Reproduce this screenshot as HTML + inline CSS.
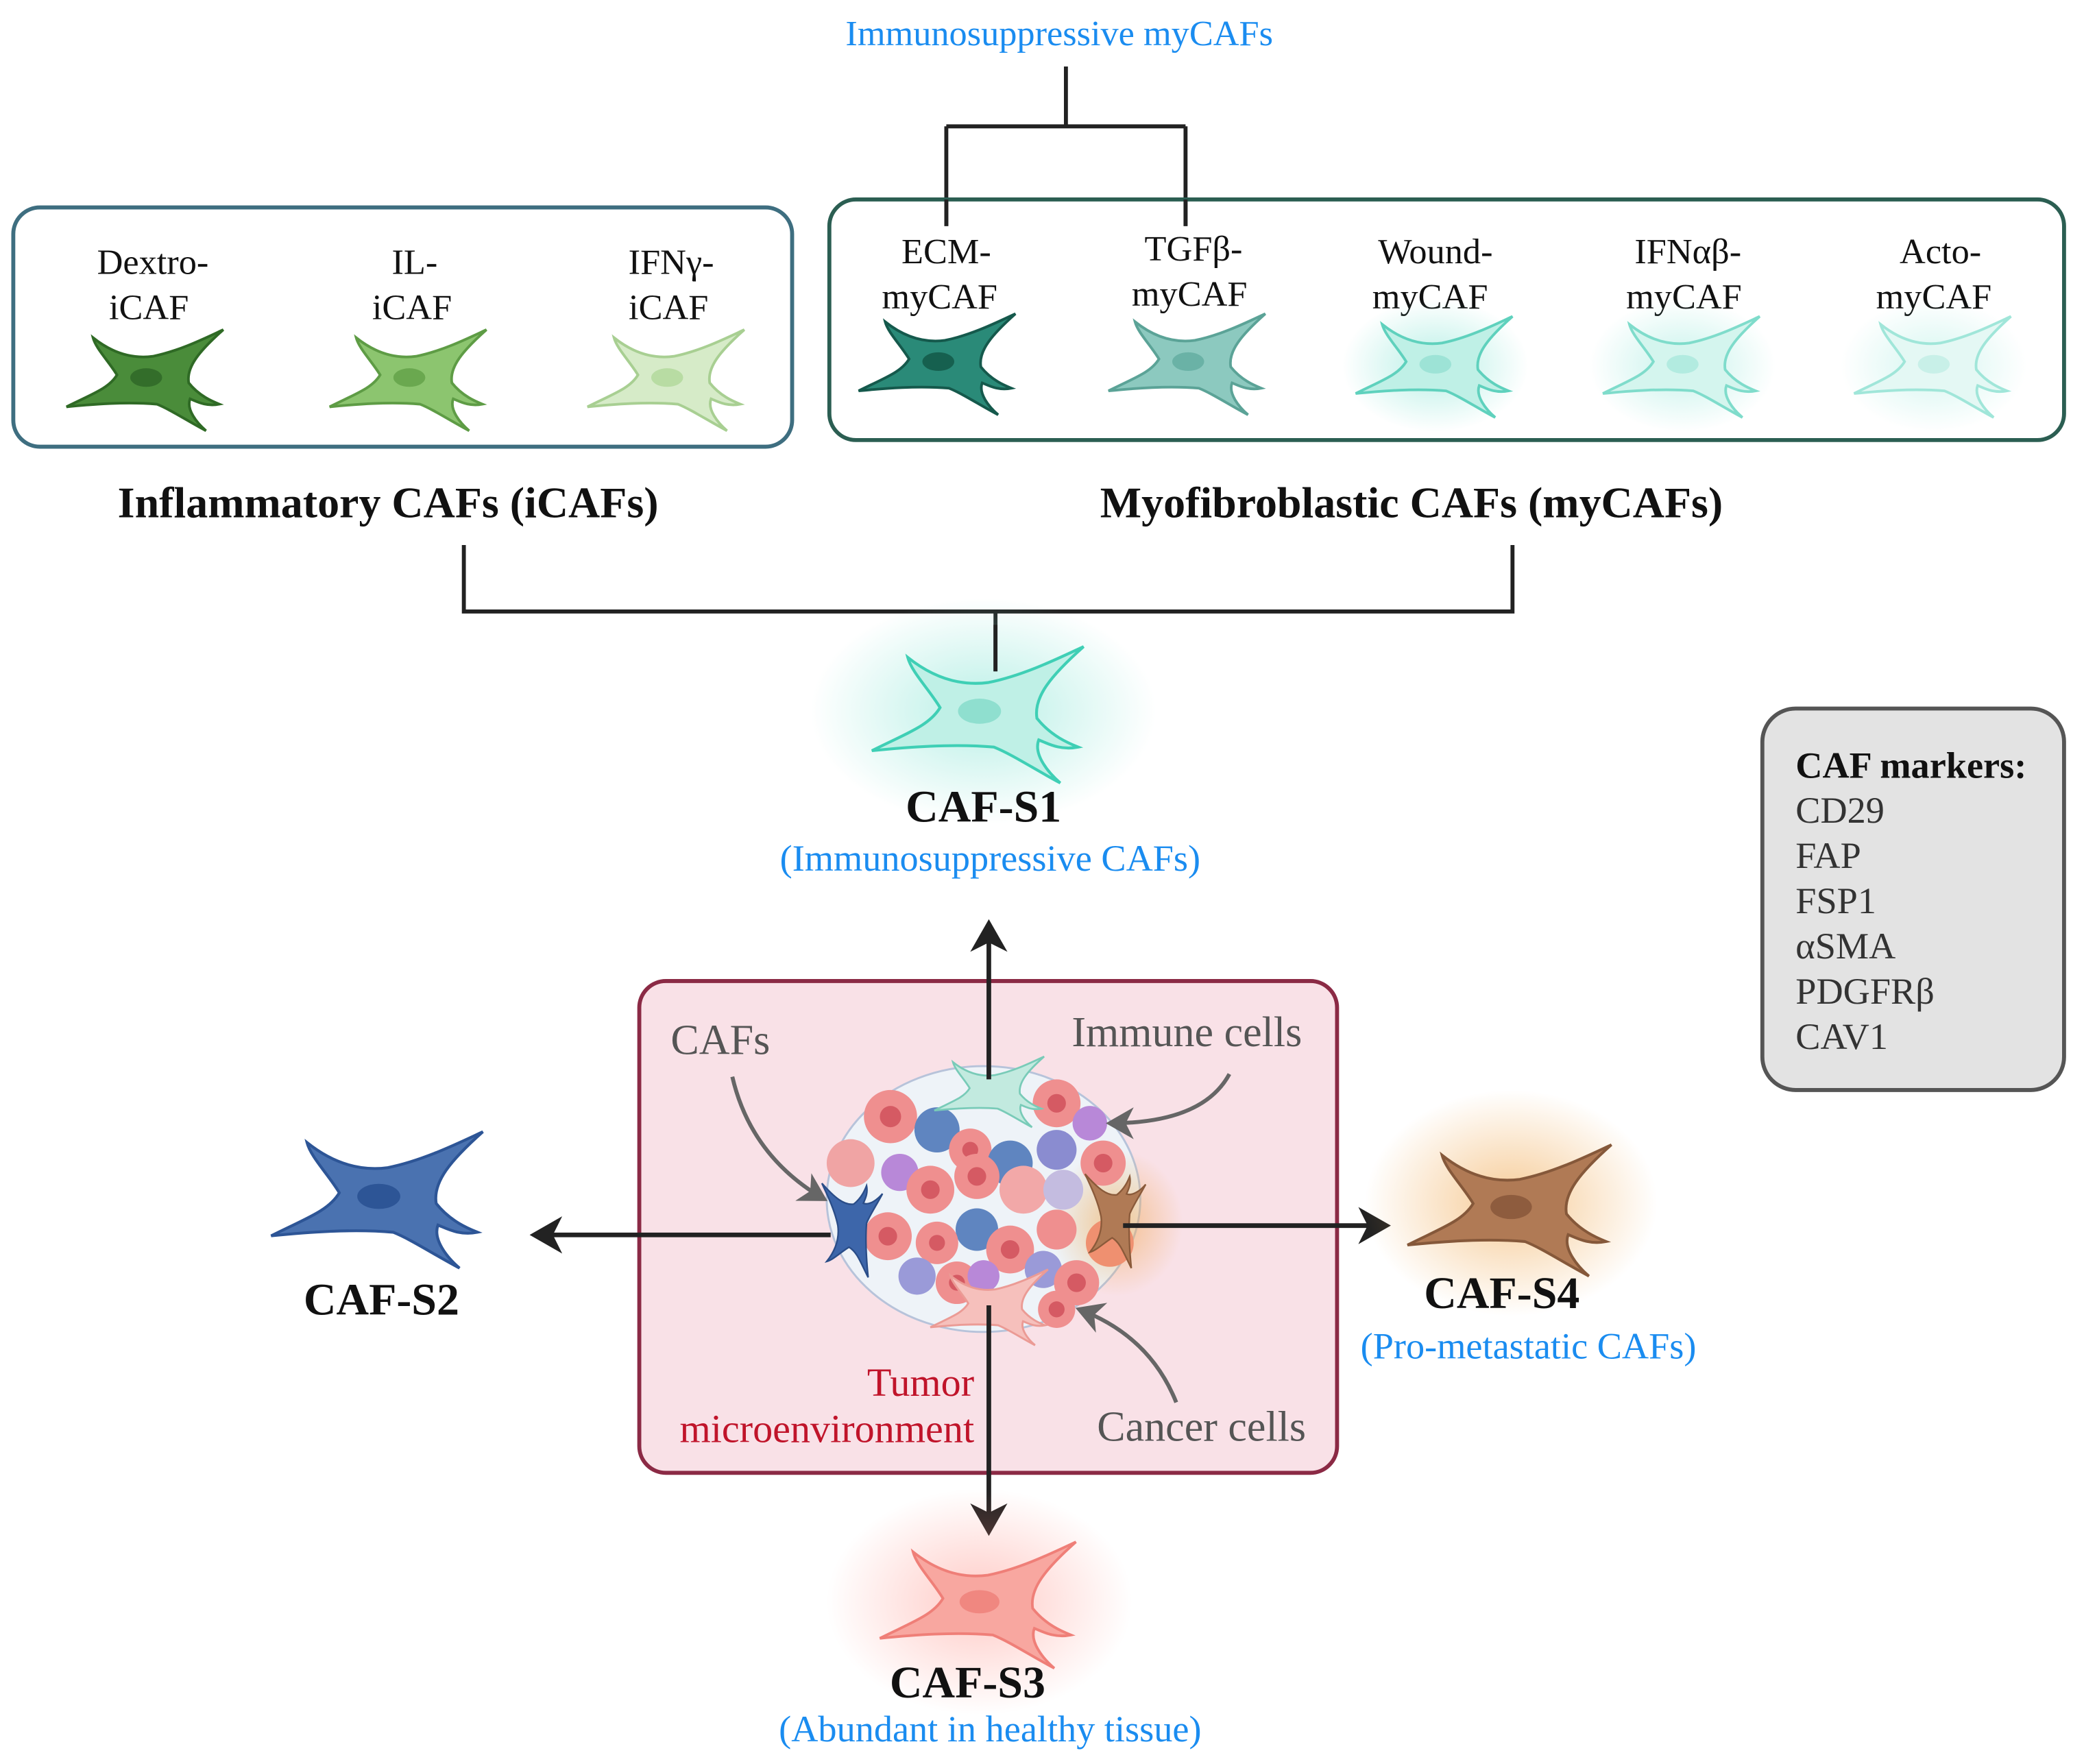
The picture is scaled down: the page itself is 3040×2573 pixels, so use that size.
<!DOCTYPE html>
<html><head><meta charset="utf-8"><style>
html,body{margin:0;padding:0;background:#fff;}
svg{display:block;}
text{font-family:"Liberation Serif",serif;}
</style></head><body>
<svg width="3040" height="2573" viewBox="0 0 1568 1327" xmlns="http://www.w3.org/2000/svg">
<defs>
<path id="cell" d="M -60,22 C -40,12 -28,8 -22,-2 C -28,-12 -38,-22 -40,-30 C -25,-18 -10,-14 5,-16 C 25,-20 45,-30 58,-36 C 40,-20 30,-8 32,4 C 40,14 50,18 55,20 C 45,22 38,18 33,16 C 30,24 38,34 45,40 C 30,32 18,24 8,20 C -15,18 -40,20 -60,22 Z"/>
<radialGradient id="gT"><stop offset="0" stop-color="#7fe3d2" stop-opacity="0.55"/><stop offset="1" stop-color="#7fe3d2" stop-opacity="0"/></radialGradient>
<radialGradient id="gO"><stop offset="0" stop-color="#f0a850" stop-opacity="0.6"/><stop offset="1" stop-color="#f0a850" stop-opacity="0"/></radialGradient>
<radialGradient id="gP"><stop offset="0" stop-color="#ff8a80" stop-opacity="0.45"/><stop offset="1" stop-color="#ff8a80" stop-opacity="0"/></radialGradient>
<marker id="ah" markerWidth="8" markerHeight="8" refX="6" refY="4" orient="auto" markerUnits="strokeWidth"><path d="M0,0 L7,4 L0,8 L2,4 Z" fill="#222"/></marker>
<marker id="ag" markerWidth="8" markerHeight="8" refX="6" refY="4" orient="auto" markerUnits="strokeWidth"><path d="M0,0 L7,4 L0,8 L2,4 Z" fill="#666"/></marker>
</defs>

<!-- top label & bracket -->
<text x="797" y="34" font-size="27" fill="#1a8cf0" text-anchor="middle">Immunosuppressive myCAFs</text>
<path d="M802,50 V95 M712,95 H892 M712,95 V170 M892,95 V170" stroke="#222" stroke-width="3" fill="none"/>

<!-- boxes -->
<rect x="10" y="156" width="586" height="180" rx="20" fill="#fff" stroke="#3e6e80" stroke-width="3"/>
<rect x="624" y="150" width="929" height="181" rx="20" fill="none" stroke="#2b5e52" stroke-width="3"/>
<path d="M712,150 V170 M892,150 V170" stroke="#222" stroke-width="3"/>

<g font-size="27" fill="#111" text-anchor="middle">
<text x="115" y="206">Dextro-</text><text x="112" y="240">iCAF</text>
<text x="312" y="206">IL-</text><text x="310" y="240">iCAF</text>
<text x="505" y="206">IFNγ-</text><text x="503" y="240">iCAF</text>
<text x="712" y="198">ECM-</text><text x="707" y="232">myCAF</text>
<text x="898" y="196">TGFβ-</text><text x="895" y="230">myCAF</text>
<text x="1080" y="198">Wound-</text><text x="1076" y="232">myCAF</text>
<text x="1270" y="198">IFNαβ-</text><text x="1267" y="232">myCAF</text>
<text x="1460" y="198">Acto-</text><text x="1455" y="232">myCAF</text>
</g>

<!-- iCAF cells -->
<g transform="translate(110,284)"><use href="#cell" fill="#4a8c3a" stroke="#2f6a25" stroke-width="2"/><ellipse rx="12" ry="7" fill="#336d2a"/></g>
<g transform="translate(308,284)"><use href="#cell" fill="#8cc56f" stroke="#5e9c45" stroke-width="2"/><ellipse rx="12" ry="7" fill="#6aa84f"/></g>
<g transform="translate(502,284)"><use href="#cell" fill="#d6ebc8" stroke="#a8cf92" stroke-width="2"/><ellipse rx="12" ry="7" fill="#b8dca3"/></g>
<!-- myCAF cells -->
<ellipse cx="1080" cy="275" rx="70" ry="50" fill="url(#gT)"/>
<ellipse cx="1266" cy="275" rx="70" ry="50" fill="url(#gT)" opacity="0.8"/>
<ellipse cx="1455" cy="275" rx="70" ry="50" fill="url(#gT)" opacity="0.6"/>
<g transform="translate(706,272)"><use href="#cell" fill="#2a8a78" stroke="#15594c" stroke-width="2"/><ellipse rx="12" ry="7" fill="#16604f"/></g>
<g transform="translate(894,272)"><use href="#cell" fill="#8cc9bf" stroke="#5ba397" stroke-width="2"/><ellipse rx="12" ry="7" fill="#6ab2a6"/></g>
<g transform="translate(1080,274)"><use href="#cell" fill="#bff0e6" stroke="#5fd1bd" stroke-width="2"/><ellipse rx="12" ry="7" fill="#9de3d6"/></g>
<g transform="translate(1266,274)"><use href="#cell" fill="#d4f5ee" stroke="#7fdccb" stroke-width="2"/><ellipse rx="12" ry="7" fill="#b2ebe0"/></g>
<g transform="translate(1455,274)"><use href="#cell" fill="#e4f8f4" stroke="#a0e6d9" stroke-width="2"/><ellipse rx="12" ry="7" fill="#c8f0e8"/></g>

<g font-size="33" font-weight="bold" fill="#111" text-anchor="middle">
<text x="292" y="389">Inflammatory CAFs (iCAFs)</text>
<text x="1062" y="389">Myofibroblastic CAFs (myCAFs)</text>
</g>
<path d="M349,410 V460 H1138 V410 M749,460 V505" stroke="#222" stroke-width="3" fill="none"/>

<!-- CAF-S1 -->
<ellipse cx="740" cy="535" rx="130" ry="85" fill="url(#gT)"/>
<g transform="translate(737,535) scale(1.35)"><use href="#cell" fill="#bff0e6" stroke="#3fcfb5" stroke-width="1.6"/><ellipse rx="12" ry="7" fill="#8fdfcf"/></g>
<path d="M749,470 V505" stroke="#222" stroke-width="3"/>
<text x="740" y="618" font-size="34" font-weight="bold" fill="#111" text-anchor="middle">CAF-S1</text>
<text x="745" y="655" font-size="28" fill="#1a8cf0" text-anchor="middle">(Immunosuppressive CAFs)</text>

<!-- markers -->
<rect x="1326" y="533" width="227" height="287" rx="25" fill="#e3e3e3" stroke="#555" stroke-width="3"/>
<g font-size="28" fill="#333">
<text x="1351" y="585" font-weight="bold" fill="#111">CAF markers:</text>
<text x="1351" y="619">CD29</text>
<text x="1351" y="653">FAP</text>
<text x="1351" y="687">FSP1</text>
<text x="1351" y="721">αSMA</text>
<text x="1351" y="755">PDGFRβ</text>
<text x="1351" y="789">CAV1</text>
</g>

<!-- TME -->
<rect x="481" y="738" width="525" height="370" rx="20" fill="#f9e1e7" stroke="#8b2a45" stroke-width="3"/>
<ellipse cx="740" cy="902" rx="118" ry="100" fill="#eef3f8" stroke="#b7c3da" stroke-width="1.5"/>
<ellipse cx="840" cy="920" rx="50" ry="55" fill="url(#gO)"/>
<g>
<circle cx="670" cy="840" r="20" fill="#ef8f8f"/><circle cx="670" cy="840" r="8" fill="#d55a63"/>
<circle cx="705" cy="850" r="17" fill="#5f85c0"/>
<circle cx="730" cy="865" r="16" fill="#ef8f8f"/><circle cx="730" cy="865" r="6" fill="#d55a63"/>
<circle cx="760" cy="875" r="17" fill="#5f85c0"/>
<circle cx="795" cy="830" r="18" fill="#ef8f8f"/><circle cx="795" cy="830" r="7" fill="#d55a63"/>
<circle cx="820" cy="845" r="13" fill="#b888d8"/>
<circle cx="795" cy="865" r="15" fill="#8a8cd0"/>
<circle cx="640" cy="875" r="18" fill="#f0a4a4"/>
<circle cx="677" cy="882" r="14" fill="#b888d8"/>
<circle cx="700" cy="895" r="18" fill="#ef8f8f"/><circle cx="700" cy="895" r="7" fill="#d55a63"/>
<circle cx="735" cy="885" r="17" fill="#ef8f8f"/><circle cx="735" cy="885" r="7" fill="#d55a63"/>
<circle cx="770" cy="895" r="18" fill="#f2a8a8"/>
<circle cx="800" cy="895" r="15" fill="#c4bce0"/>
<circle cx="830" cy="875" r="17" fill="#ef8f8f"/><circle cx="830" cy="875" r="7" fill="#d55a63"/>
<circle cx="735" cy="925" r="16" fill="#5f85c0"/>
<circle cx="705" cy="935" r="16" fill="#ef8f8f"/><circle cx="705" cy="935" r="6" fill="#d55a63"/>
<circle cx="668" cy="930" r="18" fill="#ef8f8f"/><circle cx="668" cy="930" r="7" fill="#d55a63"/>
<circle cx="760" cy="940" r="18" fill="#ef8f8f"/><circle cx="760" cy="940" r="7" fill="#d55a63"/>
<circle cx="795" cy="925" r="15" fill="#ef8f8f"/>
<circle cx="690" cy="960" r="14" fill="#9a9ad8"/>
<circle cx="720" cy="965" r="16" fill="#ef8f8f"/><circle cx="720" cy="965" r="6" fill="#d55a63"/>
<circle cx="785" cy="955" r="14" fill="#9a9ad8"/>
<circle cx="810" cy="965" r="17" fill="#ef8f8f"/><circle cx="810" cy="965" r="7" fill="#d55a63"/>
<circle cx="795" cy="985" r="14" fill="#ef8f8f"/><circle cx="795" cy="985" r="6" fill="#d55a63"/>
<circle cx="740" cy="960" r="12" fill="#b888d8"/>
<circle cx="835" cy="935" r="18" fill="#ef9070"/>
</g>
<g transform="translate(745,820) scale(0.7)"><use href="#cell" fill="#c2eadf" stroke="#79cbb8" stroke-width="2"/></g>
<g transform="translate(745,982) scale(0.75)"><use href="#cell" fill="#f6c0bc" stroke="#eb9b95" stroke-width="2"/></g>
<g transform="translate(640,925) rotate(-90) scale(0.6)"><use href="#cell" fill="#3d66aa" stroke="#2a4d88" stroke-width="2"/></g>
<g transform="translate(838,918) rotate(-90) scale(0.6)"><use href="#cell" fill="#b07a55" stroke="#8a5a3a" stroke-width="2"/></g>

<!-- arrows -->
<g stroke="#222" stroke-width="3.5" fill="none">
<path d="M744,812 V695" marker-end="url(#ah)"/>
<path d="M744,982 V1152" marker-end="url(#ah)"/>
<path d="M625,929 H402" marker-end="url(#ah)"/>
<path d="M845,922 H1043" marker-end="url(#ah)"/>
</g>
<g stroke="#666" stroke-width="3" fill="none">
<path d="M551,810 Q565,870 620,902" marker-end="url(#ag)"/>
<path d="M925,808 Q905,845 835,845" marker-end="url(#ag)"/>
<path d="M885,1055 Q865,1005 812,985" marker-end="url(#ag)"/>
</g>
<g font-size="32" fill="#555">
<text x="542" y="793" text-anchor="middle">CAFs</text>
<text x="893" y="787" text-anchor="middle">Immune cells</text>
<text x="904" y="1084" text-anchor="middle">Cancer cells</text>
</g>
<g font-size="30" fill="#c0142a" text-anchor="end">
<text x="733" y="1050">Tumor</text>
<text x="733" y="1085">microenvironment</text>
</g>

<!-- CAF-S2 -->
<g transform="translate(285,900) scale(1.35)"><use href="#cell" fill="#4a72b0" stroke="#2d5596" stroke-width="1.6"/><ellipse rx="12" ry="7" fill="#2d5596"/></g>
<text x="287" y="989" font-size="34" font-weight="bold" fill="#111" text-anchor="middle">CAF-S2</text>

<!-- CAF-S4 -->
<ellipse cx="1137" cy="905" rx="110" ry="85" fill="url(#gO)"/>
<g transform="translate(1137,908) scale(1.3)"><use href="#cell" fill="#b07a55" stroke="#85583a" stroke-width="1.6"/><ellipse rx="12" ry="7" fill="#8e5c3e"/></g>
<text x="1130" y="984" font-size="34" font-weight="bold" fill="#111" text-anchor="middle">CAF-S4</text>
<text x="1150" y="1022" font-size="28" fill="#1a8cf0" text-anchor="middle">(Pro-metastatic CAFs)</text>

<!-- CAF-S3 -->
<ellipse cx="737" cy="1205" rx="115" ry="85" fill="url(#gP)"/>
<g transform="translate(737,1205) scale(1.25)"><use href="#cell" fill="#f8a7a0" stroke="#ef7f78" stroke-width="1.6"/><ellipse rx="12" ry="7" fill="#f08780"/></g>
<text x="728" y="1277" font-size="34" font-weight="bold" fill="#111" text-anchor="middle">CAF-S3</text>
<text x="745" y="1310" font-size="28" fill="#1a8cf0" text-anchor="middle">(Abundant in healthy tissue)</text>
</svg>
</body></html>
